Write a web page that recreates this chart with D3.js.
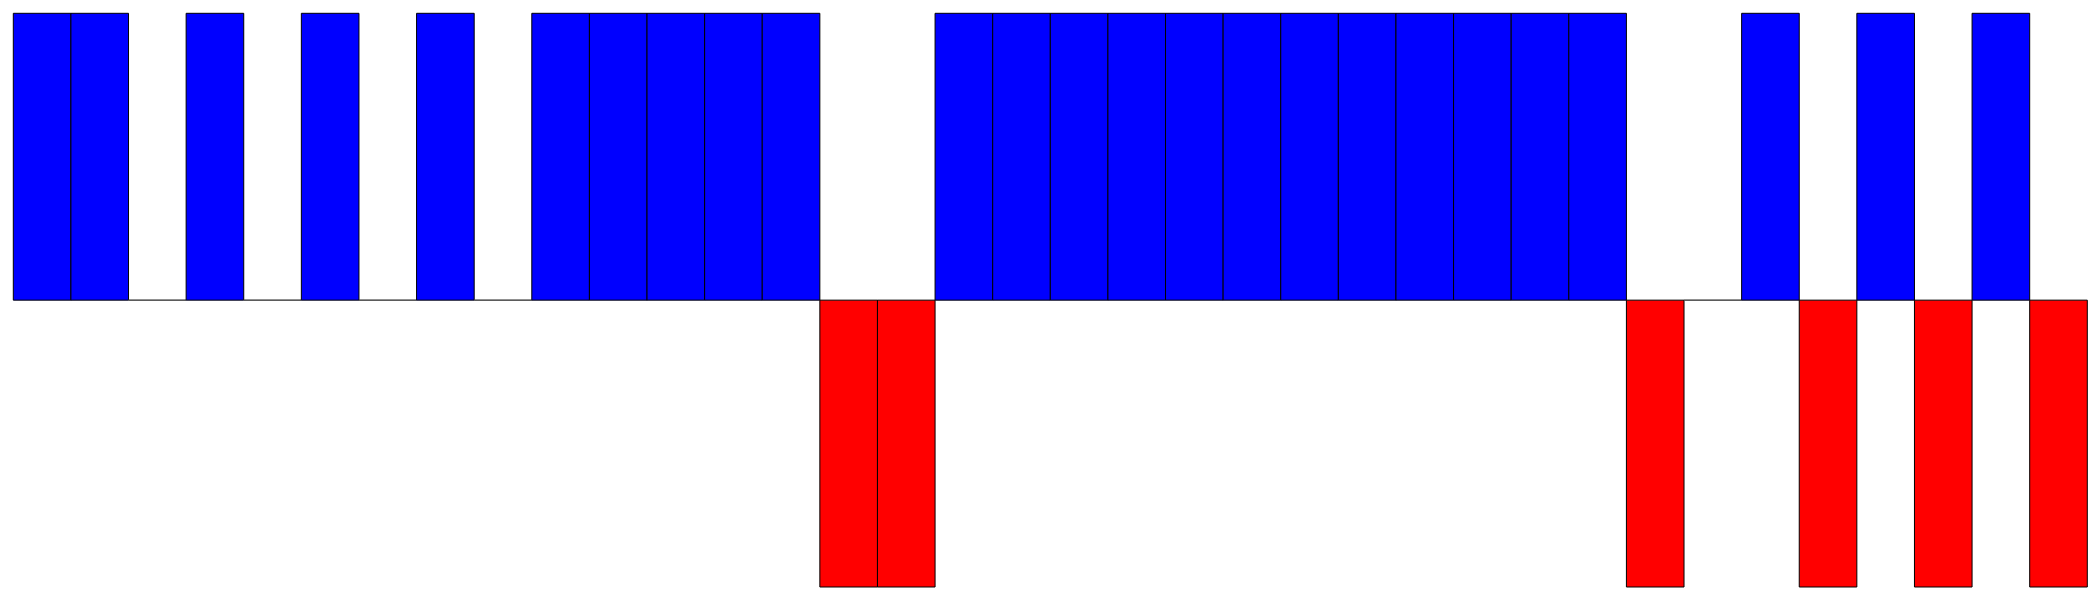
<!DOCTYPE html>
<html><head><meta charset="utf-8">
<script src="https://cdn.jsdelivr.net/npm/d3@7"></script>
<style>html,body{margin:0;padding:0;background:#fff;}svg{display:block;}</style>
</head><body>
<svg id="chart" width="2100" height="600"></svg>
<script>
const categories = d3.range(1, 37).map(String);
const values = [1,1,0,1,0,1,0,1,0,1,1,1,1,1,-1,-1,1,1,1,1,1,1,1,1,1,1,1,1,-1,0,1,-1,1,-1,1,-1];
const yDomain = [-1, 1];

const W = 2100, H = 600;
const margin = {top: 13.3, right: 12.7, bottom: 13, left: 13.3};
const svg = d3.select("#chart");
const x = d3.scaleBand().domain(categories).range([margin.left, W - margin.right]).padding(0);
const y = d3.scaleLinear().domain(yDomain).range([H - margin.bottom, margin.top]);

svg.append("g").selectAll("path").data(values).join("path")
  .attr("d", (d, i) => {
    const x0 = x(categories[i]), x1 = x0 + x.bandwidth();
    const y0 = y(0), y1 = y(d);
    return `M${x0},${y0}H${x1}V${y1}H${x0}Z`;
  })
  .attr("fill", d => d >= 0 ? "#0000ff" : "#ff0000")
  .attr("stroke", d => d === 0 ? "#444" : "#000")
  .attr("stroke-width", 1);
</script>
</body></html>
